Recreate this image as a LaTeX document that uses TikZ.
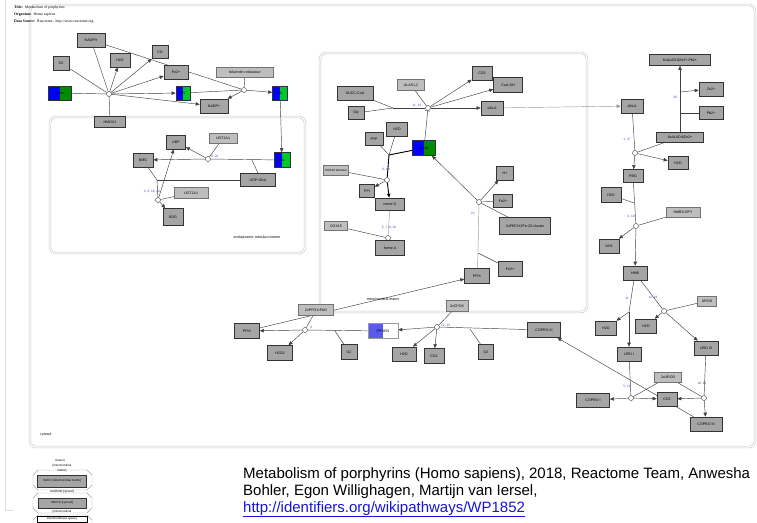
\documentclass[tikz,border=0pt]{standalone}
\usepackage{fontspec}
\setmainfont{Liberation Sans}
\newfontfamily\titlefont{Liberation Serif}
\usetikzlibrary{arrows.meta,backgrounds}
\definecolor{molgray}{RGB}{165,165,165}
\definecolor{enzgray}{RGB}{190,190,190}
\definecolor{rxnblue}{RGB}{70,70,190}
\definecolor{hemegreen}{RGB}{0,140,0}
\definecolor{ligreen}{RGB}{0,200,40}
\definecolor{ppblue}{RGB}{90,90,235}
\definecolor{linkblue}{RGB}{20,20,220}
\definecolor{compgray}{RGB}{200,200,200}
\begin{document}
\begin{tikzpicture}[x=1pt,y=-1pt,>={Triangle[length=4pt,width=3.4pt]},
    every node/.style={font=\fontsize{3.6}{4}\selectfont,inner sep=0pt},
    mol/.style={draw=black!80,line width=0.6pt,fill=molgray},
    enz/.style={draw=black!55,line width=0.4pt,fill=enzgray},
    wh/.style 2 args={minimum width=#1pt,minimum height=#2pt},
    split/.style 2 args={draw=black!80,line width=0.6pt,fill=#1,
      path picture={\fill[#2] (path picture bounding box.north) rectangle (path picture bounding box.south east);}},
    rxn/.style={circle,draw=black!80,fill=white,line width=0.4pt,minimum size=5pt},
    rnum/.style={text=rxnblue,font=\fontsize{3.2}{3.5}\selectfont},
    comp/.style={draw=compgray,double=white,double distance=1.2pt,line width=0.6pt,rounded corners=6pt},
    link/.style={draw=black!75,line width=0.45pt},
    gln/.style={draw=black!40,line width=0.45pt},
    thk/.style={draw=black,line width=0.9pt},
    legline/.style={draw=gray!70,line width=0.4pt,fill=white},
    small/.style={font=\fontsize{3}{3.5}\selectfont}]
  \useasboundingbox (0,0) rectangle (757,522);
  \draw[gray!25] (5,0) -- (5,510) -- (13,510);

  % title
  \node[anchor=base west,font=\titlefont\fontsize{3.8}{4}\selectfont] (t1) at (14,9) {\textbf{Title:}\ \ Metabolism of porphyrins};
  \node[anchor=base west,font=\titlefont\fontsize{3.8}{4}\selectfont] (t2) at (14,16) {\textbf{Organism:}\ \ Homo sapiens};
  \node[anchor=base west,font=\titlefont\fontsize{3.8}{4}\selectfont] (t3) at (14,23) {\textbf{Data Source:}\ \ Reactome - http://www.reactome.org};

  % heme breakdown
  \node[mol,wh={28}{14}] (nadph) at (91,40) {NADPH};
  \node[mol,wh={16}{14}] (o2a) at (61,63) {O2};
  \node[mol,wh={20}{14}] (h2oa) at (120,60) {H2O};
  \node[mol,wh={16}{13}] (coa) at (160,52) {CO};
  \node[mol,wh={24}{14}] (fea) at (176,72) {Fe2+};
  \node[enz,wh={57}{10}] (bvr) at (245,72) {biliverdin reductase};
  \node[split={blue}{hemegreen},wh={23}{14}] (hemea) at (60,93) {heme};
  \node[split={blue}{ligreen},wh={14}{14}] (bva) at (183,93) {BV};
  \node[split={blue}{ligreen},wh={15}{14}] (bila) at (280,93) {BIL};
  \node[mol,wh={28}{14}] (nadpa) at (214,106) {NADP+};
  \node[mol,wh={31}{11}] (hmox) at (110,122) {HMOX1};
  \node[rxn] (r1) at (109,94) {};
  \node[rxn] (r2) at (244,90) {};

  % ER lumen
  \node[mol,wh={19}{14}] (udp) at (176,142) {UDP};
  \node[enz,wh={28}{10}] (ugta) at (223,138) {UGT1A1};
  \node[mol,wh={20}{14}] (bmg) at (143,160) {BMG};
  \node[split={blue}{ligreen},wh={16}{15}] (bilb) at (282,160) {BIL};
  \node[rxn] (r3) at (208,159) {};
  \node[rnum,anchor=west] (l3) at (211,157) {6, 22};
  \node[mol,wh={35}{13}] (udpga) at (258,180) {UDP-GlcA};
  \node[enz,wh={34}{11}] (ugtb) at (191,193) {UGT1A1};
  \node[rxn] (r4) at (158,200) {};
  \node[rnum] (l4) at (152,192) {4, 6, 16, 20};
  \node[mol,wh={20}{17}] (bdg) at (173,217) {BDG};
  \coordinate (j1) at (157,180);
  \coordinate (j2) at (252,160);
  \node (erlbl) at (257,238) {endoplasmic reticulum lumen};

  % mitochondrial matrix
  \node[mol,wh={20}{14}] (co2m) at (482,73) {CO2};
  \node[mol,wh={29}{15}] (coash) at (508,85) {CoA-SH};
  \node[enz,wh={27}{11}] (alas) at (411,85) {ALAS1,2};
  \node[mol,wh={36}{14}] (succ) at (355,93) {SUCC-CoA};
  \node[mol,wh={16}{13}] (gly) at (356,113) {Gly};
  \node[mol,wh={22}{14}] (dalam) at (492,108) {dALA};
  \node[rxn] (r5) at (428,108) {};
  \node[rnum] (l5) at (417,106) {11, 15};
  \coordinate (j3) at (393,108);
  \node[split={blue}{hemegreen},wh={23}{15}] (hemem) at (424,148) {heme};
  \node[mol,wh={21}{14}] (h2om) at (397,129) {H2O};
  \node[mol,wh={18}{13}] (fpp) at (374,139) {FPP};
  \coordinate (j4) at (389,155);
  \node[enz,wh={25}{10},font=\fontsize{3}{3.5}\selectfont] (cox10) at (336,170) {COX10 tetramer};
  \node[rxn] (r6) at (387,180) {};
  \node[rnum] (l6) at (386,170) {6, 20};
  \node[mol,wh={15}{13}] (ppi) at (367,191) {PPi};
  \node[mol,wh={29}{12}] (hemeo) at (390,204) {heme O};
  \node[enz,wh={23}{9}] (cox15) at (336,226) {COX15};
  \node[rxn] (r7) at (388,238) {};
  \node[rnum] (l7) at (389,228) {5, 7, 9, 10};
  \node[mol,wh={29}{15}] (hemeA) at (390,248) {heme A};
  \node[mol,wh={17}{14}] (hp) at (505,173) {H+};
  \node[mol,wh={19}{13}] (fem1) at (503,201) {Fe2+};
  \node[mol,wh={51}{17}] (fech) at (525,226) {2xFECH:2Fe-2S cluster};
  \node[rxn] (r8) at (479,202) {};
  \node[rnum] (l8) at (473,213) {21};
  \node[mol,wh={24}{15}] (fem2) at (510,269) {Fe2+};
  \node[mol,wh={25}{15}] (ppixm) at (477,276) {PPIX};
  \coordinate (j5) at (478,253);
  \node (mtlbl) at (383,299) {mitochondrial matrix};

  % cytosol, lower middle
  \node[enz,wh={35}{11}] (ppx) at (316,310) {2xPPOX:FAD};
  \node[mol,wh={25}{15}] (ppixc) at (247,331) {PPIX};
  \node[rxn] (r9) at (305,330) {};
  \node[rnum] (l9) at (311,327) {4};
  \node[mol,wh={25}{15}] (h2o2) at (280,353) {H2O2};
  \node[mol,wh={16}{15}] (o2b) at (349,352) {O2};
  \coordinate (j6) at (335,331);
  \node[split={ppblue}{white},wh={30}{15},draw=black!40] (ppgen) at (383,331) {PPGEN};
  \node[enz,wh={22}{11}] (cpox) at (457,306) {2xCPOX};
  \node[rxn] (r10) at (437,327) {};
  \node[rnum,anchor=west] (l10) at (441,326) {12, 23};
  \node[mol,wh={33}{15}] (coproc) at (544,330) {COPRO III};
  \node[mol,wh={24}{14}] (h2ob) at (404,354) {H2O};
  \node[mol,wh={20}{15}] (co2b) at (434,356) {CO2};
  \node[mol,wh={15}{15}] (o2c) at (486,352) {O2};
  \coordinate (j7) at (470,329);

  % cytosol, right
  \node[mol,wh={61}{11}] (alad) at (680,60) {8xALAD:8Zn2+:Pb2+};
  \node[mol,wh={24}{14}] (zn) at (711,89) {Zn2+};
  \node[mol,wh={24}{13}] (pb) at (711,113) {Pb2+};
  \node[mol,wh={47}{10}] (alad2) at (680,137) {8xALAD:8Zn2+};
  \coordinate (j8a) at (680,92);
  \coordinate (j8) at (680,113);
  \node[rnum,anchor=east] (l12) at (677,97) {20};
  \node[mol,wh={22}{14}] (dalac) at (632,106) {dALA};
  \node[rxn] (r11) at (635,153) {};
  \node[rnum] (l11) at (627,140) {1, 27};
  \node[mol,wh={20}{13}] (pbg) at (633,176) {PBG};
  \node[mol,wh={20}{13}] (h2oc) at (678,163) {H2O};
  \node[mol,wh={20}{15}] (h2od) at (611,195) {H2O};
  \coordinate (j10) at (634,203);
  \node[enz,wh={34}{10}] (hmbs) at (683,212) {HMBS:DPY};
  \node[rxn] (r13) at (636,226) {};
  \node[rnum] (l13) at (631,217) {3, 19};
  \node[mol,wh={20}{14}] (nh3) at (609,246) {NH3};
  \node[mol,wh={24}{14}] (hmb) at (635,273) {HMB};
  \node[enz,wh={19}{10}] (uros) at (707,301) {UROS};
  \node[rxn] (r15) at (664,311) {};
  \node[rnum] (l15) at (653,298) {12, 18};
  \coordinate (j9) at (629,312);
  \node[rnum] (l14) at (627,298) {11};
  \node[mol,wh={21}{14}] (h2oe) at (606,328) {H2O};
  \node[mol,wh={21}{14}] (h2of) at (646,326) {H2O};
  \node[mol,wh={24}{14}] (uro1) at (629,354) {URO I};
  \node[mol,wh={24}{14}] (uro3) at (706,348) {URO III};
  \node[enz,wh={27}{10}] (urod) at (668,377) {2xUROD};
  \node[rxn] (r16) at (631,398) {};
  \node[rnum] (l16) at (627,387) {5, 12};
  \node[rxn] (r17) at (704,398) {};
  \node[rnum] (l17) at (702,384) {10, 12};
  \node[mol,wh={33}{14}] (copro1) at (593,400) {COPRO I};
  \node[mol,wh={20}{14}] (co2c) at (667,399) {CO2};
  \node[mol,wh={32}{14}] (copro3) at (706,424) {COPRO III};
  \node[anchor=west] (cylbl) at (40,435) {cytosol};

  % legend
  \draw[legline] (38,470) -- (87,470) -- (92,475) -- (92,485) -- (87,490) -- (38,490) -- (33,485) -- (33,475) -- cycle;
  \draw[legline] (38,493) -- (87,493) -- (92,498) -- (92,508) -- (87,513) -- (38,513) -- (33,508) -- (33,498) -- cycle;
  \draw[legline] (38,515) -- (87,515) -- (92,520) -- (92,525) -- (33,525) -- (33,520) -- cycle;
  \node[small] (g0) at (60,461) {cluster)};
  \node[small] (g1) at (62,466) {[mitochondrial};
  \node[small] (g2) at (62,471) {matrix]};
  \node[mol,wh={49}{12},small] (g4) at (62,481) {SUCC [mitochondrial matrix]};
  \node[small] (g5) at (62,492) {2xUROD [cytosol]};
  \node[mol,wh={48}{10},small] (g7) at (62,503) {URO III [cytosol]};
  \node[small] (g8) at (62,512) {[mitochondrial};
  \node[draw=black,fill=white,wh={50}{6},small] (g9) at (62,519) {intermembrane space]};

  % caption
  \node[anchor=base west,font=\fontsize{15}{17}\selectfont] (cap1) at (243,478) {Metabolism of porphyrins (Homo sapiens), 2018, Reactome Team, Anwesha};
  \node[anchor=base west,font=\fontsize{15}{17}\selectfont] (cap2) at (243,495) {Bohler, Egon Willighagen, Martijn van Iersel,};
  \node[anchor=base west,font=\fontsize{15}{17}\selectfont,text=linkblue] (cap3) at (243,512) {\underline{http://identifiers.org/wikipathways/WP1852}};

  \begin{pgfonlayer}{background}
    \draw[comp] (30,5) rectangle (755,447);
    \draw[comp] (50,117) rectangle (305,253);
    \draw[comp] (320,53) rectangle (587,312);
    % heme oxygenase, biliverdin reductase
    \draw[link] (hemea) -- (r1);
    \draw[link] (o2a) -- (r1);
    \draw[link] (nadph) -- (r1);
    \draw[link] (hmox) -- (r1);
    \draw[link,->] (r1) -- (h2oa);
    \draw[link,->] (r1) -- (coa);
    \draw[link,->] (r1) -- (fea);
    \draw[link,->] (r1) -- (bva);
    \draw[link,->] (r1) -- (nadpa);
    \draw[link] (nadph) -- (r2);
    \draw[link] (bva) -- (r2);
    \draw[link] (bvr) -- (r2);
    \draw[link,->] (r2) -- (bila);
    \draw[link,->] (r2) -- (nadpa);
    \draw[link,->] (bila) -- (bilb);
    % glucuronidation
    \draw[link] (bilb) -- (r3);
    \draw[link,->] (r3) -- (bmg);
    \draw[link,->] (r3) -- (udp);
    \draw[link] (ugta) -- (r3);
    \draw[link] (udpga.north) -- (j2);
    \draw[link] (bmg) -- (j1);
    \draw[link] (udpga) -- (j1);
    \draw[link] (j1) -- (r4);
    \draw[link] (ugtb) -- (r4);
    \draw[link,->] (r4) -- (udp);
    \draw[link,->] (r4) -- (bdg);
    % ALA synthesis, heme A
    \draw[link] (succ) -- (j3);
    \draw[link] (gly) -- (j3);
    \draw[link] (j3) -- (r5);
    \draw[link] (alas) -- (r5);
    \draw[link,-{Bar[width=5pt]}] (hemem) -- (r5);
    \draw[link,->] (r5) -- (co2m);
    \draw[link,->] (r5) -- (coash);
    \draw[link,->] (r5) -- (dalam);
    \draw[thk] (hemem) -- (j4);
    \draw[link] (h2om) -- (j4);
    \draw[link] (fpp) -- (j4);
    \draw[thk] (j4) -- (r6);
    \draw[thk,->] (r6) -- (hemeo);
    \draw[link] (cox10) -- (r6);
    \draw[link,->] (r6) -- (ppi);
    \draw[gln] (hemeo) -- (r7);
    \draw[gln,->] (r7) -- (hemeA);
    \draw[link] (cox15) -- (r7);
    \draw[gln] (ppixm) -- (j5);
    \draw[gln] (j5) -- (r8);
    \draw[link] (fem2) -- (j5);
    \draw[link,->] (r8) -- (hemem);
    \draw[link,->] (r8) -- (hp);
    \draw[link] (fem1) -- (r8);
    \draw[link] (fech) -- (r8);
    % PPOX, CPOX
    \draw[link,->] (ppixc) -- (ppixm);
    \draw[link] (ppgen) -- (r9);
    \draw[link,->] (r9) -- (ppixc);
    \draw[link] (ppx) -- (r9);
    \draw[link] (o2b) -- (j6);
    \draw[link,->] (r9) -- (h2o2);
    \draw[link] (coproc) -- (r10);
    \draw[link,->] (r10) -- (ppgen);
    \draw[link] (cpox) -- (r10);
    \draw[link,->] (r10) -- (h2ob);
    \draw[link,->] (r10) -- (co2b);
    \draw[link] (o2c) -- (j7);
    % ALAD to UROD
    \draw[gln,->] (dalam) -- (dalac);
    \draw[link,->] (alad2) -- (alad);
    \draw[link,->] (j8a) -- (zn);
    \draw[link] (pb) -- (j8);
    \draw[link] (dalac) -- (r11);
    \draw[link] (alad2) -- (r11);
    \draw[link,->] (r11) -- (pbg);
    \draw[link,->] (r11) -- (h2oc);
    \draw[link] (pbg) -- (r13);
    \draw[link] (h2od) -- (j10);
    \draw[link] (hmbs) -- (r13);
    \draw[link,->] (r13) -- (nh3);
    \draw[link,->] (r13) -- (hmb);
    \draw[link] (hmb) -- (j9);
    \draw[link,->] (j9) -- (uro1);
    \draw[link,->] (j9) -- (h2oe);
    \draw[link] (hmb) -- (r15);
    \draw[link] (uros) -- (r15);
    \draw[link,->] (r15) -- (h2of);
    \draw[link,->] (r15) -- (uro3);
    \draw[link] (uro1) -- (r16);
    \draw[link] (urod) -- (r16);
    \draw[link,->] (r16) -- (copro1);
    \draw[link,->] (r16) -- (co2c);
    \draw[link] (uro3) -- (r17);
    \draw[link] (urod) -- (r17);
    \draw[link,->] (r17) -- (copro3);
    \draw[link,->] (r17) -- (co2c);
    \draw[link,->] (copro3) -- (coproc);
  \end{pgfonlayer}
\end{tikzpicture}
\end{document}
